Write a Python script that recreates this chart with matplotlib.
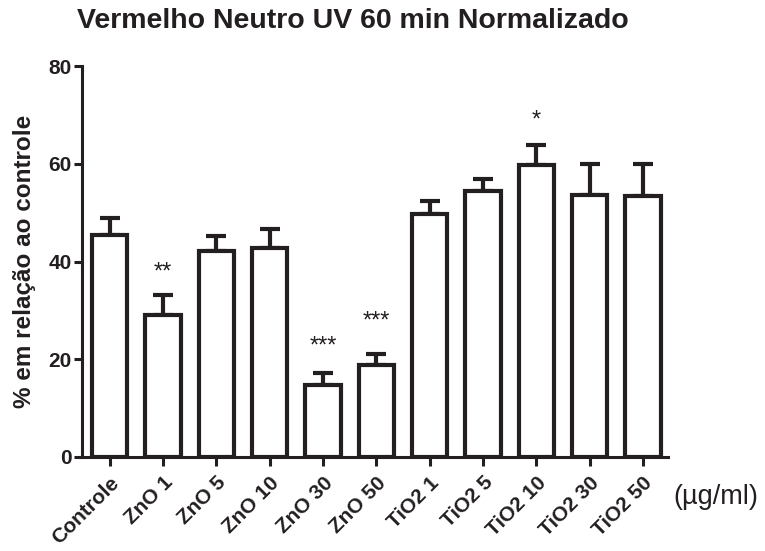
import numpy as np
import matplotlib
matplotlib.use("Agg")
import matplotlib.pyplot as plt

plt.rcParams['font.family'] = ['Liberation Sans', 'DejaVu Sans']

# Vermelho neutro, UV 60 min, normalizado ao controle
grupos = ['Controle', 'ZnO 1', 'ZnO 5', 'ZnO 10', 'ZnO 30', 'ZnO 50',
          'TiO2 1', 'TiO2 5', 'TiO2 10', 'TiO2 30', 'TiO2 50']
medias = [45.4, 29.1, 42.1, 42.7, 14.7, 18.9, 49.8, 54.4, 59.7, 53.6, 53.4]
erros = [3.5, 4.1, 3.1, 4.0, 2.5, 2.1, 2.6, 2.5, 4.1, 6.3, 6.5]

# marcas de significancia: indice do grupo, texto, altura
signif_idx = [1, 4, 5, 8]
signif_txt = ['**', '***', '***', '*']
signif_y = [37.8, 22.5, 27.8, 68.9]

cor = '#231f20'

fig = plt.figure(figsize=(7.65, 5.51), dpi=100)
ax = fig.add_axes([82 / 765, 1 - 457 / 551, (668 - 82) / 765, (457 - 66) / 551])

x = np.arange(len(grupos))
ax.bar(x, medias, width=0.66, color='white', edgecolor=cor,
       linewidth=3.0, zorder=2)
ax.errorbar(x, medias, yerr=[np.zeros(len(erros)), erros], fmt='none',
            ecolor=cor, elinewidth=3.0, capsize=7, capthick=3.0, zorder=1)

for i, t, yy in zip(signif_idx, signif_txt, signif_y):
    ax.text(i, yy, t, ha='center', va='center', fontsize=17, color=cor)

ax.set_xlim(-0.52, 10.47)
ax.set_ylim(0, 80)
ax.set_yticks([0, 20, 40, 60, 80])
ax.set_xticks(x)
ax.set_xticklabels(grupos, rotation=45, ha='right', rotation_mode='anchor',
                   fontsize=15, fontweight='bold', color=cor)
ax.tick_params(axis='y', labelsize=15, width=2.2, length=5.5, pad=2,
               color=cor, labelcolor=cor)
ax.tick_params(axis='x', width=2.2, length=6.5, color=cor, pad=5)
for lbl in ax.get_yticklabels():
    lbl.set_fontweight('bold')

for s in ['top', 'right']:
    ax.spines[s].set_visible(False)
for s in ['left', 'bottom']:
    ax.spines[s].set_linewidth(2.2)
    ax.spines[s].set_color(cor)

ax.set_ylabel('% em relação ao controle', fontsize=17.5, fontweight='bold',
              color=cor)
ax.yaxis.set_label_coords(-0.079, 0.5)

fig.text(0.461, 0.962, 'Vermelho Neutro UV 60 min Normalizado',
         ha='center', va='center', fontsize=20.5, fontweight='bold', color=cor)
fig.text(0.936, 0.098, '(µg/ml)', ha='center', va='center', fontsize=19.5,
         color=cor)

fig.savefig('out.png', dpi=100)
